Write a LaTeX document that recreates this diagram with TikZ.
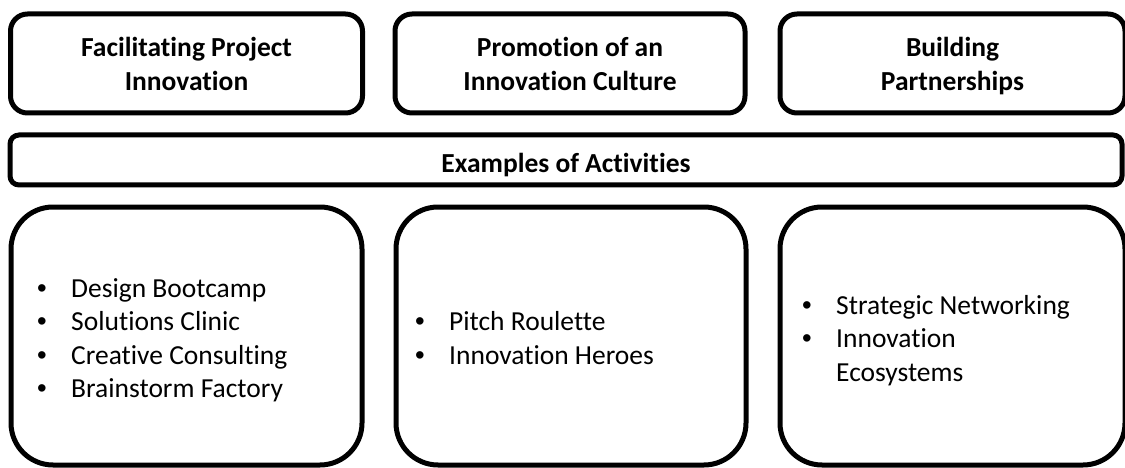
\documentclass[tikz,border=0pt]{standalone}
\usepackage{fontspec}
\setmainfont{Carlito}[Ligatures=NoCommon]
\newfontfamily\bulletfont{Liberation Sans}
\newcommand{\headfont}{\fontsize{27.5}{33.5}\selectfont\bfseries}
\newcommand{\listfont}{\fontsize{27.5}{33.5}\selectfont}
\newcommand{\blt}{\hspace*{-3pt}{\bulletfont\symbol{"2022}}}
% bullet list with hanging indent
\newenvironment{itemlist}{\listfont\begin{tabular}{@{}p{31pt}@{}l@{}}}{\end{tabular}}
\begin{document}
\begin{tikzpicture}[x=1pt,y=-1pt,
  frame/.style={draw=black, line width=5pt, fill=white, inner sep=0pt, rounded corners=#1},
  headbox/.style={frame=17pt, minimum width=#1, minimum height=99pt, align=center,
    font=\headfont, text height=58pt, text depth=4pt},
  barbox/.style={frame=9pt, minimum width=1112pt, minimum height=50pt, font=\headfont,
    text height=28pt, text depth=4pt},
  listbox/.style={frame=42pt, minimum width=#1, minimum height=258pt},
  listtext/.style={anchor=west, inner sep=0pt}]
\useasboundingbox (0,0) rectangle (1125,468);
\clip (0,0) rectangle (1125,468);

% three fields of action
\node[headbox=352pt] (goal1) at (186.5,63.5) {Facilitating Project\\Innovation};
\node[headbox=350pt] (goal2) at (570,63.5) {Promotion of an\\Innovation Culture};
\node[headbox=345pt] (goal3) at (952.5,63.5) {Building\\Partnerships};

% heading bar
\node[barbox] (examples) at (566,160) {Examples of Activities};

% activity boxes
\node[listbox=351pt] (acts1) at (186.5,336) {};
\node[listbox=350pt] (acts2) at (571,336) {};
\node[listbox=345pt] (acts3) at (952.5,336) {};

\node[listtext] (list1) at (40,341) {\begin{itemlist}
  \blt & Design Bootcamp\\
  \blt & Solutions Clinic\\
  \blt & Creative Consulting\\
  \blt & Brainstorm Factory
\end{itemlist}};
\node[listtext] (list2) at (418,341) {\begin{itemlist}
  \blt & Pitch Roulette\\
  \blt & Innovation Heroes
\end{itemlist}};
\node[listtext] (list3) at (805,341) {\begin{itemlist}
  \blt & Strategic Networking\\
  \blt & Innovation\\
   & Ecosystems
\end{itemlist}};
\end{tikzpicture}
\end{document}
